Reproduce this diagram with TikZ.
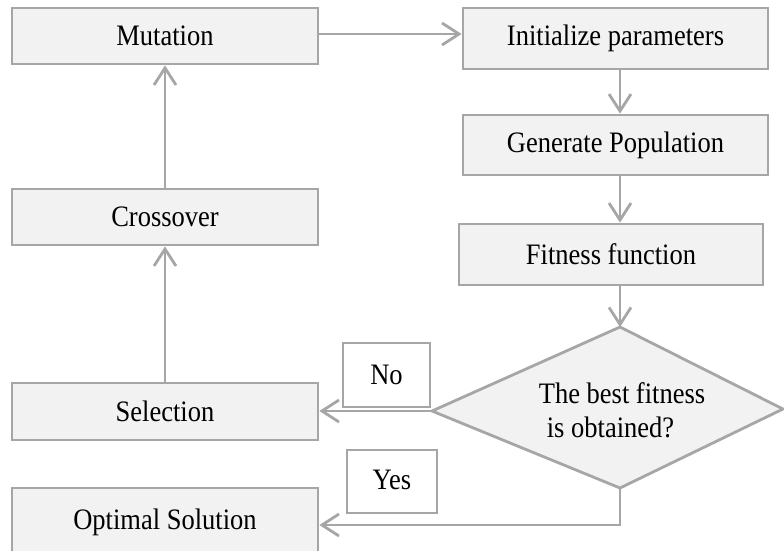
\documentclass[tikz,border=0pt]{standalone}
\usepackage{fontspec}
\setmainfont{Liberation Serif}
\usetikzlibrary{arrows.meta}
\definecolor{linegray}{HTML}{A6A6A6}
\definecolor{boxfill}{HTML}{F2F2F2}
\newcommand{\stretchtxt}[1]{\scalebox{1}[1.12]{#1}}
\begin{document}
\begin{tikzpicture}[x=1pt,y=-1pt,
  procbox/.style={draw=linegray, fill=boxfill, line width=2.8pt, rectangle,
    inner sep=0pt, font=\fontsize{26.5}{30}\selectfont},
  labelbox/.style={draw=linegray, fill=white, line width=2.4pt, rectangle,
    inner sep=0pt, font=\fontsize{26.5}{30}\selectfont},
  conn/.style={draw=linegray, line width=2.8pt,
    -{Straight Barb[length=17pt, width=22pt, line width=2.8pt]}}]
\useasboundingbox (0,0) rectangle (784,550);
\fill[white] (0,0) rectangle (784,550);

% left column
\node[procbox, minimum width=306pt, minimum height=56pt] (mut) at (165,36) {\stretchtxt{Mutation}};
\node[procbox, minimum width=306pt, minimum height=56pt] (cross) at (165,217) {\stretchtxt{Crossover}};
\node[procbox, minimum width=306pt, minimum height=57pt] (sel) at (165,411.5) {\stretchtxt{Selection}};
\node[procbox, minimum width=306pt, minimum height=68pt] (opt) at (165,522) {\stretchtxt{Optimal Solution}};

% right column
\node[procbox, minimum width=305pt, minimum height=61pt] (init) at (615.5,38.5) {\stretchtxt{Initialize parameters}};
\node[procbox, minimum width=305pt, minimum height=60pt] (gen) at (615.5,145) {\stretchtxt{Generate Population}};
\node[procbox, minimum width=304pt, minimum height=61pt] (fit) at (611,254.5) {\stretchtxt{Fitness function}};

% decision diamond
\coordinate (dtop) at (620,327);
\coordinate (dleft) at (432,411);
\coordinate (dbot) at (620,488);
\coordinate (dright) at (783,409);
\draw[linegray, fill=boxfill, line width=2.8pt, line join=miter]
  (dtop) -- (dright) -- (dbot) -- (dleft) -- cycle;
\node[font=\fontsize{26.5}{34}\selectfont, align=left, inner sep=0pt] (dec) at (622,410)
  {\stretchtxt{The best fitness}\\\hspace*{8pt}\stretchtxt{is obtained?}};

% labels
\node[labelbox, minimum width=87pt, minimum height=64pt] (no) at (386.5,375) {\stretchtxt{No}};
\node[labelbox, minimum width=90pt, minimum height=63pt] (yes) at (392,481.5) {\raisebox{4pt}{\stretchtxt{Yes}}};

% connectors
\draw[conn] (mut.east |- 0,34) -- (init.west |- 0,34);
\draw[conn] (init.south -| dtop) -- (gen.north -| dtop);
\draw[conn] (gen.south -| dtop) -- (fit.north -| dtop);
\draw[conn] (fit.south -| dtop) -- (dtop);
\draw[conn] (dleft) -- (dleft -| sel.east);
\draw[conn] (dbot) |- ([yshift=-3pt]opt.east);
\draw[conn] (sel.north) -- (cross.south);
\draw[conn] (cross.north) -- (mut.south);
\end{tikzpicture}
\end{document}
